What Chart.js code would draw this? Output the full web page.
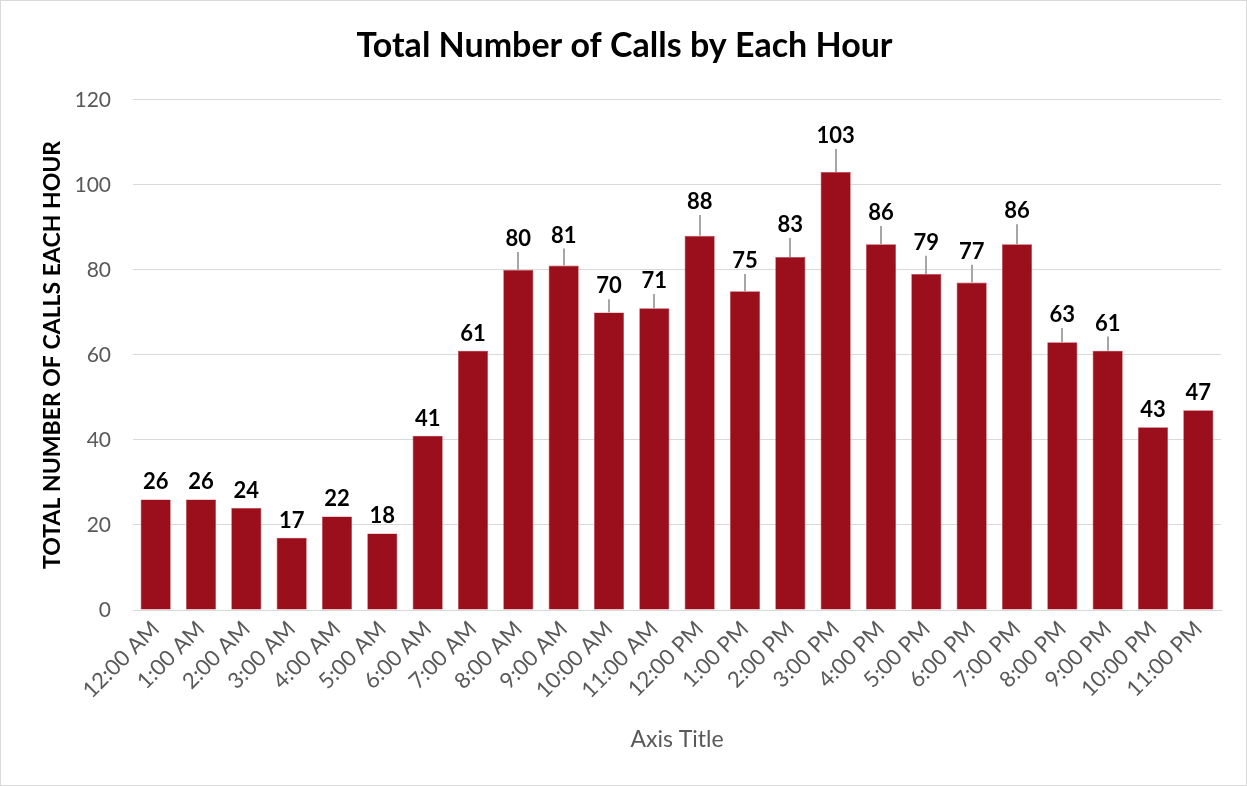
<!DOCTYPE html>
<html>
<head>
<meta charset="utf-8">
<script src="https://cdn.jsdelivr.net/npm/chart.js@4/dist/chart.umd.min.js"></script>
<style>
  html, body { margin: 0; padding: 0; background: #ffffff; }
  #wrap { position: relative; width: 1247px; height: 786px; box-sizing: border-box; border: 1px solid #d9d9d9; }
  canvas { display: block; }
</style>
</head>
<body>
<div id="wrap"><canvas id="c" width="1245" height="784"></canvas></div>
<script>
const titleText = "Total Number of Calls by Each Hour";
const yAxisTitle = "TOTAL NUMBER OF CALLS EACH HOUR";
const xAxisTitle = "Axis Title";
const categories = ["12:00 AM","1:00 AM","2:00 AM","3:00 AM","4:00 AM","5:00 AM","6:00 AM","7:00 AM","8:00 AM","9:00 AM","10:00 AM","11:00 AM","12:00 PM","1:00 PM","2:00 PM","3:00 PM","4:00 PM","5:00 PM","6:00 PM","7:00 PM","8:00 PM","9:00 PM","10:00 PM","11:00 PM"];
const calls = [26,26,24,17,22,18,41,61,80,81,70,71,88,75,83,103,86,79,77,86,63,61,43,47];
const upperErrors = [0,0,0,0,0,0,0,0,4.2,4,3.1,3.3,4.9,4,4.5,5.4,4.3,4.3,4.2,4.7,3.3,3.3,0,0];
const yTicksMax = 120;
const yTickStep = 20;

const FONT = "Lato, 'Open Sans', 'Noto Sans', sans-serif";

const errorAndLabels = {
  id: 'errorAndLabels',
  afterDatasetsDraw(chart) {
    const ctx = chart.ctx;
    const meta = chart.getDatasetMeta(0);
    const ys = chart.scales.y;
    ctx.save();
    meta.data.forEach((bar, i) => {
      const v = calls[i];
      const e = upperErrors[i];
      const yTop = ys.getPixelForValue(v);
      const yErr = ys.getPixelForValue(v + e);
      if (e > 0) {
        ctx.beginPath();
        ctx.strokeStyle = '#a6a6a6';
        ctx.lineWidth = 2;
        ctx.moveTo(Math.round(bar.x), yTop);
        ctx.lineTo(Math.round(bar.x), yErr);
        ctx.stroke();
      }
      ctx.fillStyle = '#000000';
      ctx.font = "bold 22px " + FONT;
      ctx.textAlign = 'center';
      ctx.textBaseline = 'alphabetic';
      ctx.fillText(String(v), bar.x, (e > 0 ? yErr - 6 : yTop - 10));
    });
    ctx.restore();
  }
};

new Chart(document.getElementById('c'), {
  type: 'bar',
  data: {
    labels: categories,
    datasets: [{
      data: calls,
      backgroundColor: '#9b0e1c',
      borderColor: '#b8404b',
      borderWidth: 0.6,
      categoryPercentage: 1.0,
      barPercentage: 0.665
    }]
  },
  options: {
    responsive: false,
    animation: false,
    devicePixelRatio: 1,
    layout: { padding: { left: 14, right: 12, top: 0, bottom: 0 } },
    plugins: {
      legend: { display: false },
      tooltip: { enabled: false },
      title: {
        display: true,
        text: titleText,
        color: '#000000',
        font: { family: FONT, size: 34, weight: 'bold', lineHeight: 1.2 },
        padding: { top: 25, bottom: 33 }
      }
    },
    scales: {
      x: {
        grid: { display: false, drawTicks: false },
        border: { display: true, color: '#d9d9d9', width: 1 },
        ticks: {
          color: '#595959',
          font: { family: FONT, size: 22 },
          minRotation: 45,
          maxRotation: 45,
          padding: 6,
          autoSkip: false
        },
        title: {
          display: true,
          text: xAxisTitle,
          color: '#595959',
          font: { family: FONT, size: 23 },
          padding: { top: 4, bottom: 32 }
        },
        afterFit(scale) { scale.height = 175; }
      },
      y: {
        min: 0,
        max: yTicksMax,
        grid: { color: '#d9d9d9', lineWidth: 1, drawTicks: false },
        border: { display: false },
        ticks: {
          stepSize: yTickStep,
          color: '#595959',
          font: { family: FONT, size: 21 },
          padding: 22
        },
        title: {
          display: true,
          text: yAxisTitle,
          color: '#000000',
          font: { family: FONT, size: 23, weight: 'bold' },
          padding: { top: 24, bottom: 0 }
        },
        afterFit(scale) { scale.width = 118; }
      },
      ySpacer: {
        type: 'linear',
        position: 'right',
        display: true,
        min: 0,
        max: yTicksMax,
        grid: { display: false, drawTicks: false },
        border: { display: false },
        ticks: { display: false },
        afterFit(scale) { scale.width = 13; }
      }
    }
  },
  plugins: [errorAndLabels]
});
</script>
</body>
</html>
